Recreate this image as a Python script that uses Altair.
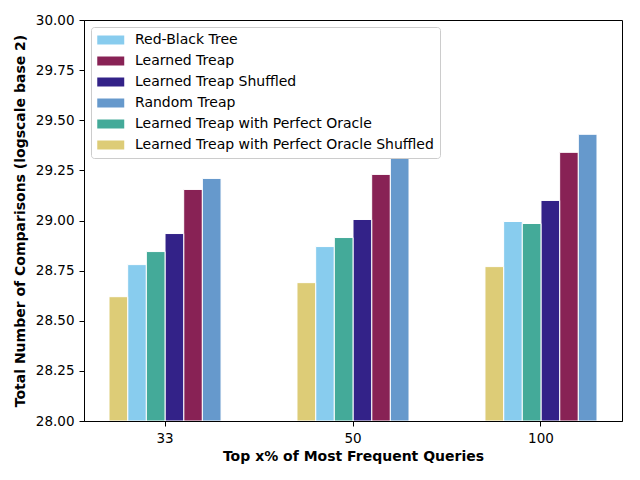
import altair as alt
import pandas as pd

groups = ["33", "50", "100"]
legend_order = [
    "Red-Black Tree",
    "Learned Treap",
    "Learned Treap Shuffled",
    "Random Treap",
    "Learned Treap with Perfect Oracle",
    "Learned Treap with Perfect Oracle Shuffled",
]
colors = ["#88CCEE", "#882255", "#332288", "#6699CC", "#44AA99", "#DDCC77"]
bar_order = [
    "Learned Treap with Perfect Oracle Shuffled",
    "Red-Black Tree",
    "Learned Treap with Perfect Oracle",
    "Learned Treap Shuffled",
    "Learned Treap",
    "Random Treap",
]
values = {
    "Red-Black Tree": [28.78, 28.87, 28.995],
    "Learned Treap": [29.155, 29.23, 29.34],
    "Learned Treap Shuffled": [28.935, 29.005, 29.10],
    "Random Treap": [29.21, 29.31, 29.43],
    "Learned Treap with Perfect Oracle": [28.845, 28.915, 28.985],
    "Learned Treap with Perfect Oracle Shuffled": [28.62, 28.69, 28.77],
}

rows = []
for s in legend_order:
    for g, v in zip(groups, values[s]):
        rows.append({"group": g, "series": s, "value": v})
df = pd.DataFrame(rows)

font = "DejaVu Sans"

chart = alt.Chart(df).mark_bar(stroke="white", strokeWidth=1, clip=True).encode(
    x=alt.X(
        "group:N",
        sort=groups,
        scale=alt.Scale(paddingInner=0.404, paddingOuter=0.133),
        axis=alt.Axis(
            title="Top x% of Most Frequent Queries",
            labelAngle=0,
            tickColor="black",
            domainColor="black",
            labelColor="black",
            labelFontSize=13.5,
            tickSize=5,
            labelPadding=5,
            titleFontSize=14,
            titleFontWeight="bold",
            titlePadding=5,
            titleColor="black",
        ),
    ),
    xOffset=alt.XOffset("series:N", sort=bar_order, scale=alt.Scale(paddingInner=0, paddingOuter=0)),
    y=alt.Y(
        "value:Q",
        scale=alt.Scale(domain=[28, 30], zero=False, nice=False),
        axis=alt.Axis(
            title="Total Number of Comparisons (logscale base 2)",
            values=[28.0, 28.25, 28.5, 28.75, 29.0, 29.25, 29.5, 29.75, 30.0],
            format=".2f",
            grid=False,
            tickColor="black",
            domainColor="black",
            labelColor="black",
            labelFontSize=13.5,
            tickSize=5,
            labelPadding=5,
            titleFontSize=14,
            titleFontWeight="bold",
            titlePadding=8,
            titleColor="black",
        ),
    ),
    y2=alt.datum(28),
    color=alt.Color(
        "series:N",
        scale=alt.Scale(domain=legend_order, range=colors),
        legend=alt.Legend(
            title=None,
            orient="top-left",
            offset=7,
            symbolType="M-1,-0.667 L3,-0.667 L3,0.667 L-1,0.667 Z",
            symbolSize=182,
            symbolStrokeWidth=0,
            labelFontSize=14,
            labelColor="black",
            labelLimit=0,
            labelOffset=24,
            rowPadding=7,
            padding=6,
            strokeColor="#cccccc",
            fillColor="rgba(255,255,255,0.8)",
            cornerRadius=3,
        ),
    ),
).properties(
    width=538,
    height=401,
    autosize=alt.AutoSizeParams(type="none"),
    padding={"left": 76, "top": 12, "right": 10, "bottom": 50},
).configure(font=font).configure_view(stroke="black", strokeWidth=1)

chart.save("out.html", embed_options={"renderer": "svg", "actions": False})
